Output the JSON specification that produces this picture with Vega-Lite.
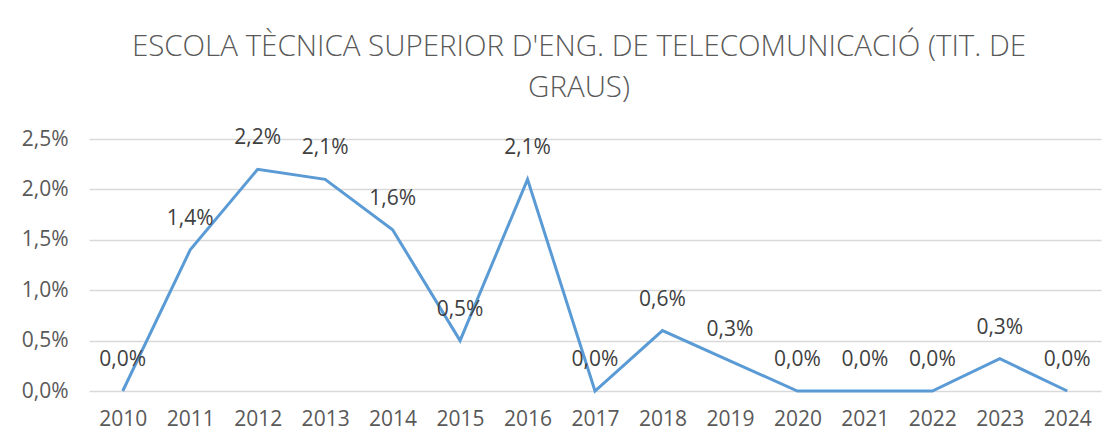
{
  "$schema": "https://vega.github.io/schema/vega-lite/v6.json",
  "width": 1012,
  "height": 252,
  "autosize": "none",
  "padding": {"left": 89, "top": 139, "right": 7, "bottom": 56},
  "background": "white",
  "title": {
    "text": ["ESCOLA TÈCNICA SUPERIOR D'ENG. DE TELECOMUNICACIÓ (TIT. DE", "GRAUS)"],
    "font": "Open Sans",
    "fontSize": 29.5,
    "fontWeight": 300,
    "color": "#595959",
    "lineHeight": 41,
    "anchor": "middle",
    "frame": "group",
    "dx": -16,
    "offset": 24
  },
  "data": {
    "values": [
      {"year": "2010", "value": 0.0},
      {"year": "2011", "value": 0.014},
      {"year": "2012", "value": 0.022},
      {"year": "2013", "value": 0.021},
      {"year": "2014", "value": 0.016},
      {"year": "2015", "value": 0.005},
      {"year": "2016", "value": 0.021},
      {"year": "2017", "value": 0.0},
      {"year": "2018", "value": 0.006},
      {"year": "2019", "value": 0.003},
      {"year": "2020", "value": 0.0},
      {"year": "2021", "value": 0.0},
      {"year": "2022", "value": 0.0},
      {"year": "2023", "value": 0.0032},
      {"year": "2024", "value": 0.0}
    ]
  },
  "encoding": {
    "x": {
      "field": "year",
      "type": "ordinal",
      "scale": {"type": "point", "padding": 0.5},
      "axis": {
        "title": null,
        "labelAngle": 0,
        "ticks": false,
        "tickSize": 0,
        "domain": false,
        "grid": false,
        "labelPadding": 17,
        "labelFont": "Open Sans",
        "labelFontSize": 21,
        "labelColor": "#595959"
      }
    },
    "y": {
      "field": "value",
      "type": "quantitative",
      "scale": {"domain": [0, 0.025], "nice": false},
      "axis": {
        "title": null,
        "values": [0, 0.005, 0.01, 0.015, 0.02, 0.025],
        "format": ".1%",
        "ticks": false,
        "tickSize": 0,
        "domain": false,
        "grid": true,
        "gridColor": "#D9D9D9",
        "gridWidth": 1.3,
        "labelPadding": 21,
        "labelFont": "Open Sans",
        "labelFontSize": 21,
        "labelColor": "#595959"
      }
    }
  },
  "layer": [
    {
      "mark": {"type": "line", "color": "#5B9BD5", "strokeWidth": 3, "strokeJoin": "miter"}
    },
    {
      "mark": {"type": "text", "dy": -31, "baseline": "middle", "font": "Open Sans", "fontSize": 21, "color": "#404040"},
      "encoding": {
        "text": {"field": "value", "type": "quantitative", "format": ".1%"}
      }
    }
  ],
  "config": {
    "locale": {
      "number": {"decimal": ",", "thousands": ".", "grouping": [3], "currency": ["", " €"]}
    },
    "view": {"stroke": null}
  }
}
